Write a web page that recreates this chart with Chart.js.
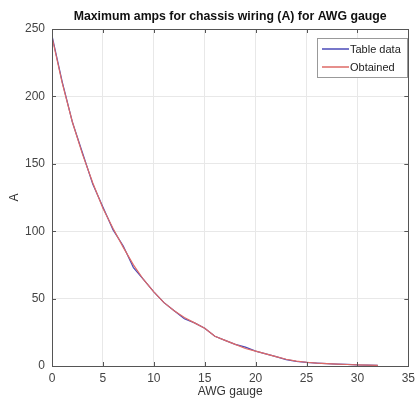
<!DOCTYPE html>
<html>
<head>
<meta charset="utf-8">
<script src="https://cdn.jsdelivr.net/npm/chart.js@4.4.0/dist/chart.umd.min.js"></script>
<style>
  html, body { margin: 0; padding: 0; background: #fff; }
  #wrap { width: 420px; height: 406px; }
</style>
</head>
<body>
<div id="wrap"><canvas id="myChart" width="420" height="406"></canvas></div>
<script>
// AWG gauge numbers 0..32
const gauges = [0, 1, 2, 3, 4, 5, 6, 7, 8, 9, 10, 11, 12, 13, 14, 15, 16,
    17, 18, 19, 20, 21, 22, 23, 24, 25, 26, 27, 28, 29, 30, 31, 32];
// max amps for chassis wiring, table values
const tableAmps = [245, 211, 181, 158, 135, 118, 101, 89, 73, 64, 55, 47, 41,
    35, 32, 28, 22, 19, 16, 14, 11, 9, 7, 4.7, 3.5, 2.7, 2.2, 1.7, 1.4, 1.2, 0.86, 0.7, 0.53];
// values obtained from the model
const obtainedAmps = [244, 210, 181, 157, 136, 117, 102, 88, 75, 64, 55, 47, 41,
    36, 32, 28, 22, 19, 16, 13, 11, 9, 7, 5, 3.6, 2.8, 2.1, 1.7, 1.4, 1.1, 0.9, 0.7, 0.5];
const xTicks = [0, 5, 10, 15, 20, 25, 30, 35];
const yTicks = [0, 50, 100, 150, 200, 250];

const fontFam = '"Liberation Sans", Arial, sans-serif';

const toPoints = (ys) => gauges.map((g, i) => ({x: g, y: ys[i]}));

// matlab-ish box, inner ticks, title and legend
const matlabBox = {
    id: 'matlabBox',
    afterDraw(chart) {
        const {ctx, chartArea: a, scales} = chart;
        ctx.save();
        ctx.strokeStyle = '#555';
        ctx.lineWidth = 1;
        ctx.strokeRect(Math.round(a.left) + 0.5, Math.round(a.top) + 0.5,
            Math.round(a.right - a.left), Math.round(a.bottom - a.top));

        // inward ticks
        ctx.beginPath();
        xTicks.forEach(v => {
            const px = Math.round(scales.x.getPixelForValue(v)) + 0.5;
            ctx.moveTo(px, a.bottom); ctx.lineTo(px, a.bottom - 4);
            ctx.moveTo(px, a.top); ctx.lineTo(px, a.top + 4);
        });
        yTicks.forEach(v => {
            const py = Math.round(scales.y.getPixelForValue(v)) + 0.5;
            ctx.moveTo(a.left, py); ctx.lineTo(a.left + 4, py);
            ctx.moveTo(a.right, py); ctx.lineTo(a.right - 4, py);
        });
        ctx.stroke();

        // title over the plot area
        ctx.fillStyle = '#111';
        ctx.font = 'bold 12.3px ' + fontFam;
        ctx.textAlign = 'center';
        ctx.textBaseline = 'middle';
        ctx.fillText('Maximum amps for chassis wiring (A) for AWG gauge', (a.left + a.right) / 2, 17);

        // legend box
        const lx = 317, ly = 38, lw = 90, lh = 39;
        ctx.fillStyle = '#fff';
        ctx.fillRect(lx, ly, lw, lh);
        ctx.strokeStyle = '#999';
        ctx.strokeRect(lx + 0.5, ly + 0.5, lw, lh);
        ctx.font = '11px ' + fontFam;
        ctx.textAlign = 'left';
        ctx.lineWidth = 1.5;
        chart.data.datasets.forEach((ds, i) => {
            const yy = ly + 11 + i * 18;
            ctx.strokeStyle = ds.borderColor;
            ctx.beginPath();
            ctx.moveTo(lx + 5, yy);
            ctx.lineTo(lx + 32, yy);
            ctx.stroke();
            ctx.fillStyle = '#222';
            ctx.fillText(ds.label, lx + 33, yy + 1);
        });
        ctx.restore();
    }
};

const ctx = document.getElementById('myChart').getContext('2d');

const myChart = new Chart(ctx, {
    type: 'line',
    data: {
        datasets: [{
            label: 'Table data',
            data: toPoints(tableAmps),
            borderColor: '#4a4ab8',
            borderWidth: 1.2,
            pointRadius: 0,
            tension: 0,
            order: 1,
        }, {
            label: 'Obtained',
            data: toPoints(obtainedAmps),
            borderColor: '#de6a66',
            borderWidth: 1.2,
            pointRadius: 0,
            tension: 0,
            order: 0,
        }]
    },
    options: {
        responsive: false,
        animation: false,
        layout: { padding: { top: 29, right: 8, left: 0, bottom: 0 } },
        scales: {
            x: {
                type: 'linear',
                min: 0,
                max: 35,
                afterFit: (s) => { s.height = 40; },
                afterBuildTicks: (s) => { s.ticks = xTicks.map(v => ({value: v})); },
                ticks: { font: { size: 12, family: fontFam }, color: '#444', padding: 5, maxRotation: 0 },
                grid: { color: '#e8e8e8', drawTicks: false },
                border: { display: false },
                title: { display: true, text: 'AWG gauge', color: '#333', font: { size: 12, family: fontFam }, padding: { top: 7, bottom: 7 } }
            },
            y: {
                min: 0,
                max: 250,
                afterFit: (s) => { s.width = 52; },
                afterBuildTicks: (s) => { s.ticks = yTicks.map(v => ({value: v})); },
                ticks: { font: { size: 12, family: fontFam }, color: '#444', padding: 7 },
                grid: { color: '#e8e8e8', drawTicks: false },
                border: { display: false },
                title: { display: true, text: 'A', color: '#333', font: { size: 12, family: fontFam }, padding: { top: 7, bottom: 7 } }
            }
        },
        plugins: {
            legend: { display: false },
            title: { display: false },
            tooltip: { enabled: false }
        }
    },
    plugins: [matlabBox]
});
</script>
</body>
</html>
